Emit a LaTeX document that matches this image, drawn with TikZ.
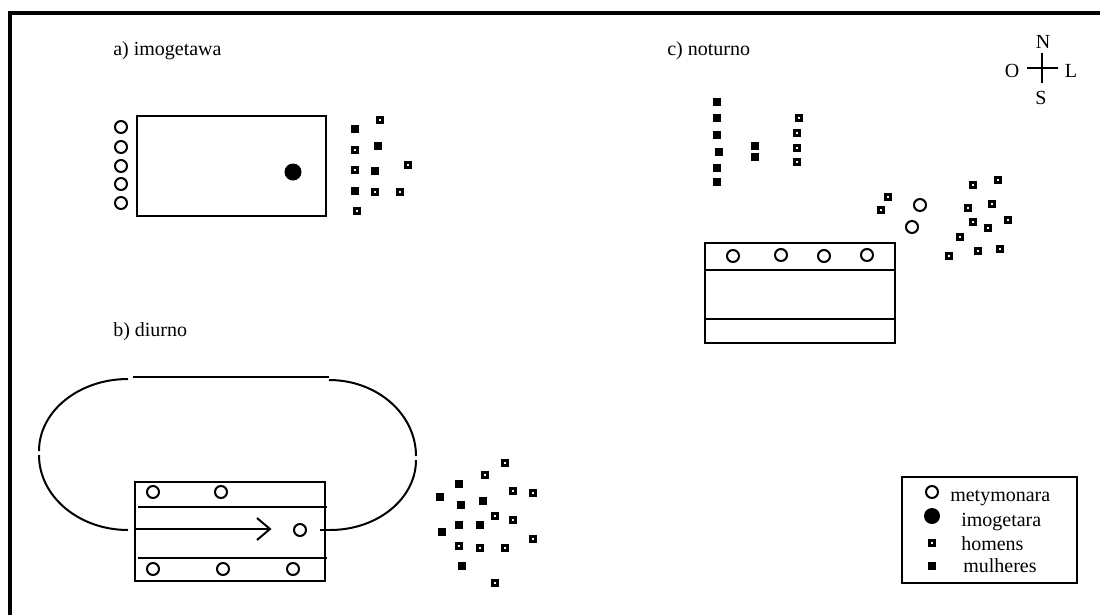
\documentclass[tikz,border=0pt]{standalone}
\usepackage{fontspec}
\setmainfont{Liberation Serif}
\begin{document}
\begin{tikzpicture}[x=0.75pt,y=-0.75pt,
  font=\fontsize{15}{18}\selectfont,
  frame/.style={line width=2.6pt},
  boxline/.style={line width=1.9pt},
  inline/.style={line width=1.6pt},
  thinline/.style={line width=0.8pt},
  pathline/.style={line width=1.5pt},
  ring/.style={circle,draw,line width=1.5pt,minimum size=9pt,inner sep=0pt},
  dot/.style={circle,fill=black,minimum size=12.75pt,inner sep=0pt},
  mulher/.style={rectangle,fill=black,minimum size=6.2pt,inner sep=0pt},
  homem/.style={rectangle,fill=black,minimum size=6pt,inner sep=0pt,
    path picture={\fill[white] ([shift={(-0.9pt,-0.9pt)}]path picture bounding box.center) rectangle ++(1.8pt,1.8pt);}},
  lbl/.style={inner sep=0pt,anchor=base west},
  cmp/.style={inner sep=0pt,anchor=base}]
\useasboundingbox (0,0) rectangle (1100,615);
% outer frame
\draw[frame] (10,615) -- (10,13) -- (1100,13);

% ---------- a) imogetawa ----------
\node[lbl] (ta) at (113,55) {a) imogetawa};
\draw[boxline] (137,116) rectangle (326,216);
\foreach \y [count=\i] in {127,147,166,184,203} \node[ring] (ar\i) at (121,\y) {};
\node[dot] (adot) at (293,172) {};
\foreach \x/\y [count=\i] in {380/120,355/150,355/170,408/165,375/192,400/192,357/211}
  \node[homem] (ah\i) at (\x,\y) {};
\foreach \x/\y [count=\i] in {355/129,378/146,375/171,355/191}
  \node[mulher] (am\i) at (\x,\y) {};

% ---------- c) noturno ----------
\node[lbl] (tc) at (667,55) {c) noturno};
\foreach \x/\y [count=\i] in {717/102,717/118,717/135,719/152,717/168,717/182,755/146,755/157}
  \node[mulher] (cm\i) at (\x,\y) {};
\foreach \x/\y [count=\i] in {799/118,797/133,797/148,797/162,888/197,881/210,973/185,998/180,968/208,992/204,973/222,988/228,1008/220,960/237,978/251,1000/249,949/256}
  \node[homem] (ch\i) at (\x,\y) {};
\foreach \x/\y [count=\i] in {920/205,912/227,733/256,781/255,824/256,867/255}
  \node[ring] (cr\i) at (\x,\y) {};
\draw[boxline] (705,243) rectangle (895,343);
\draw[boxline] (705,270) -- (895,270);
\draw[boxline] (705,319) -- (896,319);

% compass
\coordinate (cpN) at (1042,53);
\coordinate (cpS) at (1042,83);
\coordinate (cpW) at (1027,68);
\coordinate (cpE) at (1058,68);
\draw[boxline] (cpN) -- (cpS);
\draw[boxline] (cpW) -- (cpE);
\node[cmp] (lN) at (1043,48) {N};
\node[cmp] (lO) at (1012,77) {O};
\node[cmp] (lL) at (1071,77) {L};
\node[cmp] (lS) at (1041,104) {S};

% ---------- b) diurno ----------
\node[lbl] (tb) at (113,336) {b) diurno};
% oval circuit
\draw[thinline] (133,377) -- (329,377);
\draw[pathline] (128,379) arc[start angle=-90,end angle=-180,x radius=89,y radius=72];
\draw[pathline] (39,455) arc[start angle=180,end angle=90,x radius=89,y radius=75];
\draw[pathline] (329,380) arc[start angle=-90,end angle=0,x radius=87,y radius=76];
\draw[pathline] (416,460) arc[start angle=0,end angle=90,x radius=86,y radius=70];
\draw[thinline] (320,530) -- (330,530);
% box
\draw[boxline] (135,482) rectangle (325,581);
\draw[inline] (138,507) -- (327,507);
\draw[inline] (138,558) -- (327,558);
% arrow
\coordinate (arS) at (135,529);
\coordinate (arE) at (270,529);
\draw[pathline] (arS) -- (arE);
\draw[pathline,line join=miter] (257,518) -- (arE) -- (257,540);
\foreach \x/\y [count=\i] in {153/492,221/492,300/530,153/569,223/569,293/569}
  \node[ring] (br\i) at (\x,\y) {};
\foreach \x/\y [count=\i] in {505/463,485/475,513/491,533/493,495/516,513/520,533/539,459/546,480/548,505/548,495/583}
  \node[homem] (bh\i) at (\x,\y) {};
\foreach \x/\y [count=\i] in {459/484,440/497,461/505,483/501,459/525,480/525,442/532,462/566}
  \node[mulher] (bm\i) at (\x,\y) {};

% ---------- legend ----------
\draw[boxline] (902,477) rectangle (1077,583);
\node[ring] (lg1) at (932,492) {};
\node[dot,minimum size=12pt] (lg2) at (932,516) {};
\node[homem] (lg3) at (932,543) {};
\node[mulher] (lg4) at (932,566) {};
\node[lbl] (lt1) at (950,501) {metymonara};
\node[lbl] (lt2) at (961,526) {imogetara};
\node[lbl] (lt3) at (961,550) {homens};
\node[lbl] (lt4) at (963,572) {mulheres};
\end{tikzpicture}
\end{document}
